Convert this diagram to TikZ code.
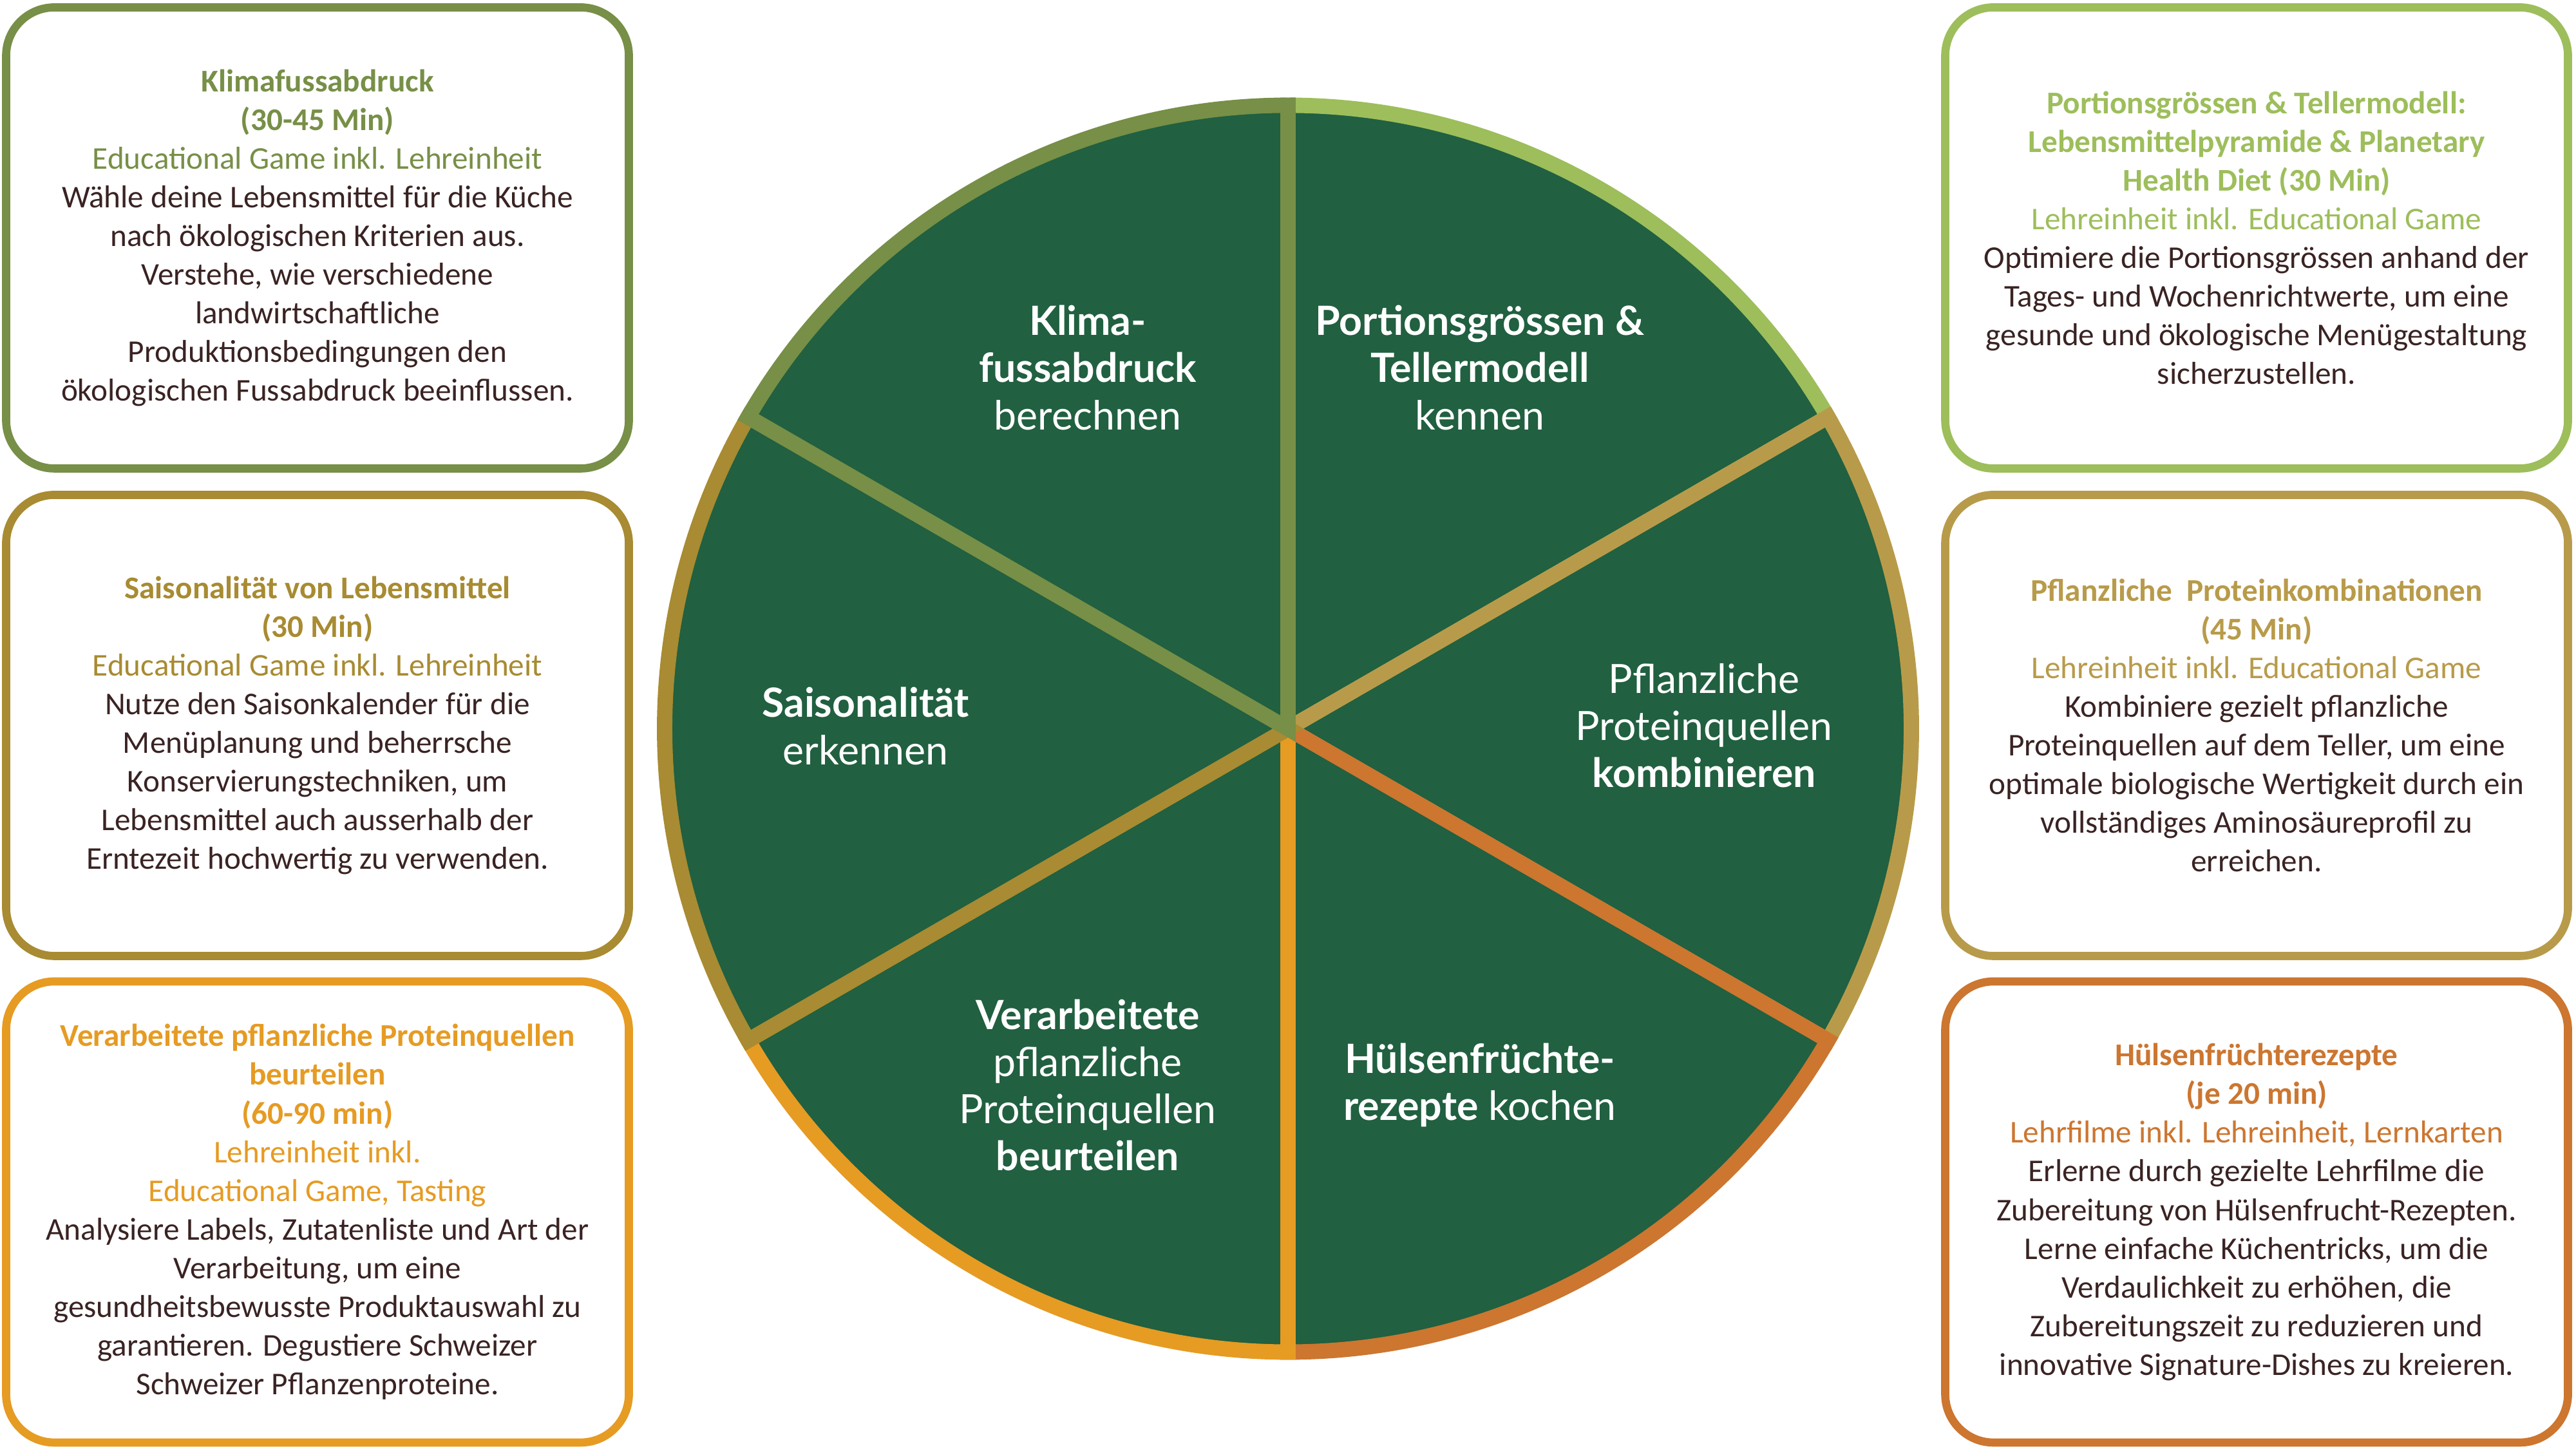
\documentclass[tikz,border=0pt]{standalone}
\usepackage{fontspec}
\setmainfont{Carlito}
\newfontfamily\wheelfont{Lato}
\definecolor{wheelgreen}{HTML}{216040}
\definecolor{bodybrown}{HTML}{3A2323}
\definecolor{colKlima}{HTML}{778F47}
\definecolor{colPortion}{HTML}{9DBE5B}
\definecolor{colPflanz}{HTML}{B89B4A}
\definecolor{colHuelsen}{HTML}{CC7630}
\definecolor{colVerarb}{HTML}{E69B23}
\definecolor{colSaison}{HTML}{A88B32}

\begin{document}
\begin{tikzpicture}
                \tikzstyle{sector} = [fill=wheelgreen, line width=6.8pt]
                \tikzstyle{wheeltext} = [text=white, align=center, font=\wheelfont\fontsize{17.8}{20.8}\selectfont]
                \tikzstyle{infobox} = [draw, line width=3.6pt, rounded corners=0.75cm, fill=white, text=bodybrown, minimum width=9.67cm, minimum height=7.16cm, align=center, font=\fontsize{14}{17.1}\selectfont]
                \useasboundingbox (0, 0) rectangle (40, 22.5);
                \coordinate (hub) at (20, 11.185);
                \draw[sector, draw=colPortion] (hub) -- ++(30:9.68) arc[start angle=30, end angle=90, radius=9.68cm] -- cycle;
                \draw[sector, draw=colPflanz] (hub) -- ++(-30:9.68) arc[start angle=-30, end angle=30, radius=9.68cm] -- cycle;
                \draw[sector, draw=colHuelsen] (hub) -- ++(-90:9.68) arc[start angle=-90, end angle=-30, radius=9.68cm] -- cycle;
                \draw[sector, draw=colVerarb] (hub) -- ++(210:9.68) arc[start angle=210, end angle=270, radius=9.68cm] -- cycle;
                \draw[sector, draw=colSaison] (hub) -- ++(150:9.68) arc[start angle=150, end angle=210, radius=9.68cm] -- cycle;
                \draw[sector, draw=colKlima] (hub) -- ++(90:9.68) arc[start angle=90, end angle=150, radius=9.68cm] -- cycle;
                \node[wheeltext] (wKlima) at (16.89, 16.79) {\textbf{Klima-}\\\textbf{fussabdruck}\\berechnen};
                \node[wheeltext] (wPortion) at (22.98, 16.79) {\textbf{Portionsgrössen \&}\\\textbf{Tellermodell}\\kennen};
                \node[wheeltext] (wPflanz) at (26.46, 11.23) {Pflanzliche\\Proteinquellen\\\textbf{kombinieren}};
                \node[wheeltext] (wSaison) at (13.44, 11.225) {\textbf{Saisonalität}\\erkennen};
                \node[wheeltext] (wVerarb) at (16.89, 5.65) {\textbf{Verarbeitete}\\pflanzliche\\Proteinquellen\\\textbf{beurteilen}};
                \node[wheeltext] (wHuelsen) at (22.98, 5.65) {\textbf{Hülsenfrüchte-}\\\textbf{rezepte} kochen};
                \node[infobox, draw=colKlima] (bKlima) at (4.93, 18.805) {\textcolor{colKlima}{\textbf{Klimafussabdruck}}\\\textcolor{colKlima}{\textbf{(30-45 Min)}}\\\textcolor{colKlima}{Educational Game inkl. Lehreinheit}\\Wähle deine Lebensmittel für die Küche\\nach ökologischen Kriterien aus.\\Verstehe, wie verschiedene\\landwirtschaftliche\\Produktionsbedingungen den\\ökologischen Fussabdruck beeinflussen.};
                \node[infobox, draw=colSaison] (bSaison) at (4.93, 11.235) {\textcolor{colSaison}{\textbf{Saisonalität von Lebensmittel}}\\\textcolor{colSaison}{\textbf{(30 Min)}}\\\textcolor{colSaison}{Educational Game inkl. Lehreinheit}\\Nutze den Saisonkalender für die\\Menüplanung und beherrsche\\Konservierungstechniken, um\\Lebensmittel auch ausserhalb der\\Erntezeit hochwertig zu verwenden.};
                \node[infobox, draw=colVerarb] (bVerarb) at (4.93, 3.68) {\textcolor{colVerarb}{\textbf{Verarbeitete pflanzliche Proteinquellen}}\\\textcolor{colVerarb}{\textbf{beurteilen}}\\\textcolor{colVerarb}{\textbf{(60-90 min)}}\\\textcolor{colVerarb}{Lehreinheit inkl.}\\\textcolor{colVerarb}{Educational Game, Tasting}\\Analysiere Labels, Zutatenliste und Art der\\Verarbeitung, um eine\\gesundheitsbewusste Produktauswahl zu\\garantieren. Degustiere Schweizer\\Schweizer Pflanzenproteine.};
                \node[infobox, draw=colPortion] (bPortion) at (35.04, 18.805) {\textcolor{colPortion}{\textbf{Portionsgrössen \& Tellermodell:}}\\\textcolor{colPortion}{\textbf{Lebensmittelpyramide \& Planetary}}\\\textcolor{colPortion}{\textbf{Health Diet (30 Min)}}\\\textcolor{colPortion}{Lehreinheit inkl. Educational Game}\\Optimiere die Portionsgrössen anhand der\\Tages- und Wochenrichtwerte, um eine\\gesunde und ökologische Menügestaltung\\sicherzustellen.};
                \node[infobox, draw=colPflanz] (bPflanz) at (35.04, 11.235) {\textcolor{colPflanz}{\textbf{Pflanzliche\ \ Proteinkombinationen}}\\\textcolor{colPflanz}{\textbf{(45 Min)}}\\\textcolor{colPflanz}{Lehreinheit inkl. Educational Game}\\Kombiniere gezielt pflanzliche\\Proteinquellen auf dem Teller, um eine\\optimale biologische Wertigkeit durch ein\\vollständiges Aminosäureprofil zu\\erreichen.};
                \node[infobox, draw=colHuelsen] (bHuelsen) at (35.04, 3.68) {\textcolor{colHuelsen}{\textbf{Hülsenfrüchterezepte}}\\\textcolor{colHuelsen}{\textbf{(je 20 min)}}\\\textcolor{colHuelsen}{Lehrfilme inkl. Lehreinheit, Lernkarten}\\Erlerne durch gezielte Lehrfilme die\\Zubereitung von Hülsenfrucht-Rezepten.\\Lerne einfache Küchentricks, um die\\Verdaulichkeit zu erhöhen, die\\Zubereitungszeit zu reduzieren und\\innovative Signature-Dishes zu kreieren.};
            \end{tikzpicture}
\end{document}
